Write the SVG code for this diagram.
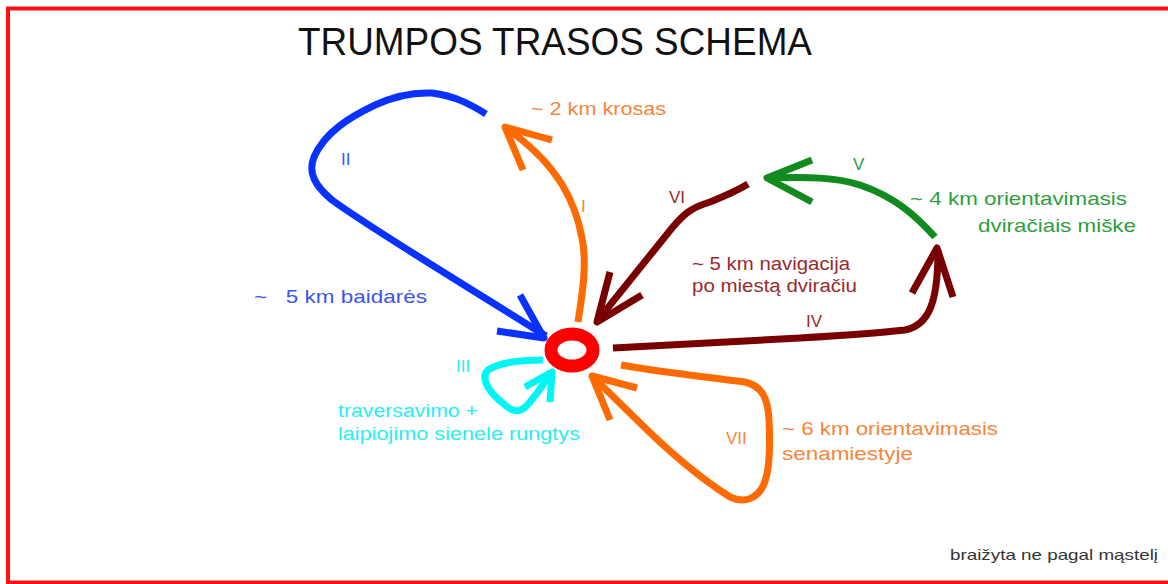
<svg xmlns="http://www.w3.org/2000/svg" width="1168" height="584" viewBox="0 0 1168 584">
<style>
text{font-family:"Liberation Sans",Arial,sans-serif;font-size:18px}
text.s17{font-size:17px}
text.s19{font-size:19px}
text.s15{font-size:15px}
text.title{font-size:38px}
.ln{fill:none;stroke-linejoin:round;stroke-linecap:butt;stroke-width:7}
.blue{stroke:#0a32ff}.orange{stroke:#ff6a00}.maroon{stroke:#780000}.green{stroke:#118a1e}.cyan{stroke:#00f5f5}
.tblue{fill:#3a55f0}.torange{fill:#f7843a}.tmaroon{fill:#9a2a2a}.tgreen{fill:#2e9e3e}.tcyan{fill:#2aeeee}
</style>
<rect x="0" y="0" width="1168" height="584" fill="#ffffff"/>
<rect x="8" y="8.5" width="1200" height="574" fill="none" stroke="#ff1010" stroke-width="4"/>
<text x="298" y="55" class="title" fill="#111" textLength="514" lengthAdjust="spacingAndGlyphs">TRUMPOS TRASOS SCHEMA</text>
<g id="connectors">
<path class="ln blue" d="M486,114 C470,104 455,96 432,93 C410,92 390,98 375,105 C350,117 325,132 314,157 C308,172 314,185 332,200 C370,228 460,282 546,336"/>
<path class="ln blue" d="M520,295 L544,338 L497,331"/>
<path class="ln orange" d="M578,322 C583,290 587,262 582,238 C576,205 560,165 506,128"/>
<path class="ln orange" d="M552,140 L505,127 L523,170"/>
<path class="ln maroon" d="M748,184 C735,192 725,196 710,202 C690,208 683,215 672,228 L598,320"/>
<path class="ln maroon" d="M610,272 L597,322 L642,295"/>
<path class="ln maroon" d="M613,348 L800,338 C850,335 880,333 905,330 C930,325 938,300 938,250"/>
<path class="ln maroon" d="M912,293 L937,248 L953,297"/>
<path class="ln green" d="M935,237 C915,215 895,197 860,185 C835,177 810,177 767,178"/>
<path class="ln green" d="M812,160 L767,178 L812,202"/>
<path class="ln cyan" d="M543,360 C520,360 500,362 488,370 C480,378 488,392 505,405 C515,414 522,412 530,402 C540,390 546,380 552,372"/>
<path class="ln cyan" d="M525,387 L552,372 L550,402"/>
<path class="ln orange" d="M621,365 C660,372 700,376 745,382 C762,386 768,398 769,420 C770,440 770,470 764,484 C758,498 745,504 730,497 C700,478 665,448 635,418 L592,376"/>
<path class="ln orange" d="M637,388 L592,376 L610,420"/>
</g>
<g id="start">
<ellipse cx="572" cy="350" rx="21" ry="16" fill="none" stroke="#ff0000" stroke-width="13"/>
</g>
<g id="route-I">
<text x="581" y="212" class="torange s17">I</text>
<text x="531" y="115" class="torange" textLength="135" lengthAdjust="spacingAndGlyphs">~ 2 km krosas</text>
</g>
<g id="route-II">
<text x="341" y="165" class="tblue s17">II</text>
<text x="254" y="303" class="tblue s19" xml:space="preserve" textLength="173" lengthAdjust="spacingAndGlyphs">~   5 km baidarės</text>
</g>
<g id="route-III">
<text x="456" y="372" class="tcyan s17">III</text>
<text x="338" y="417" class="tcyan" textLength="140" lengthAdjust="spacingAndGlyphs">traversavimo +</text>
<text x="338" y="440" class="tcyan" textLength="242" lengthAdjust="spacingAndGlyphs">laipiojimo sienele rungtys</text>
</g>
<g id="route-IV">
<text x="806" y="327" class="tmaroon s17">IV</text>
</g>
<g id="route-V">
<text x="853" y="170" class="tgreen s17">V</text>
<text x="910" y="205" class="tgreen s19" textLength="217" lengthAdjust="spacingAndGlyphs">~ 4 km orientavimasis</text>
<text x="978" y="232" class="tgreen s19" textLength="158" lengthAdjust="spacingAndGlyphs">dviračiais miške</text>
</g>
<g id="route-VI">
<text x="669" y="203" class="tmaroon s17">VI</text>
<text x="692" y="270" class="tmaroon" textLength="158" lengthAdjust="spacingAndGlyphs">~ 5 km navigacija</text>
<text x="692" y="292" class="tmaroon" textLength="165" lengthAdjust="spacingAndGlyphs">po miestą dviračiu</text>
</g>
<g id="route-VII">
<text x="726" y="444" class="torange s17">VII</text>
<text x="782" y="435" class="torange s19" textLength="216" lengthAdjust="spacingAndGlyphs">~ 6 km orientavimasis</text>
<text x="782" y="460" class="torange s19" textLength="131" lengthAdjust="spacingAndGlyphs">senamiestyje</text>
</g>
<text x="950" y="560" class="s15" fill="#333" textLength="208" lengthAdjust="spacingAndGlyphs">braižyta ne pagal mąstelį</text>
</svg>
